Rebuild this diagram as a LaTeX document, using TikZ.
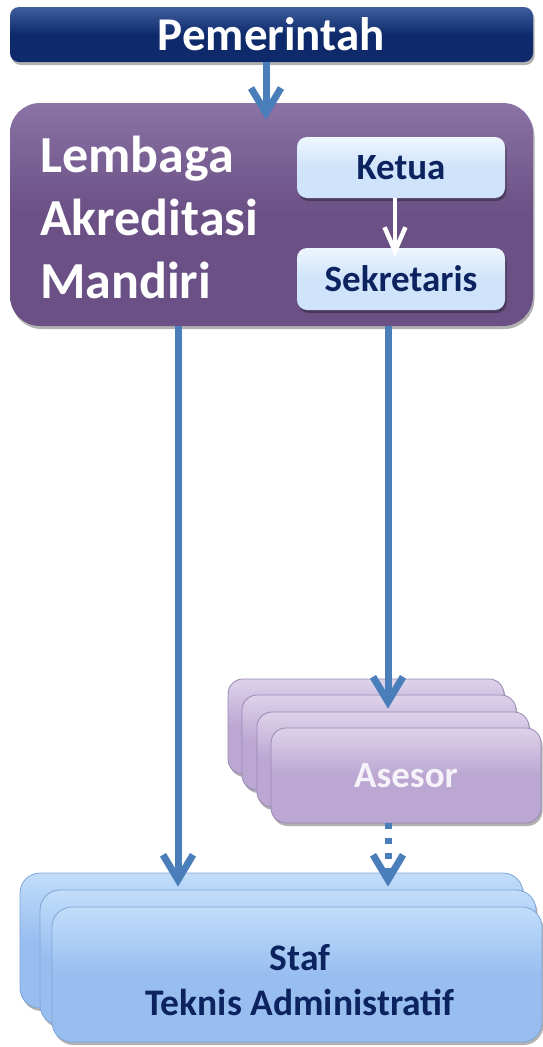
\documentclass[tikz,border=0pt]{standalone}
\usepackage{fontspec}
\setmainfont{Carlito}
\usetikzlibrary{arrows.meta,shadows}
\definecolor{navy}{HTML}{0E2A6A}
\definecolor{navyhi}{HTML}{3E5E9E}
\definecolor{lampurple}{HTML}{6A5084}
\definecolor{lamhi}{HTML}{8B73A6}
\definecolor{lightblue}{HTML}{CFE3FA}
\definecolor{lightbluehi}{HTML}{EEF6FE}
\definecolor{asesorfill}{HTML}{BBA7D2}
\definecolor{asesorhi}{HTML}{DDD2EA}
\definecolor{asesorline}{HTML}{9A86B5}
\definecolor{staffill}{HTML}{98BEF0}
\definecolor{stafhi}{HTML}{C2DDFA}
\definecolor{stafline}{HTML}{7FA6D8}
\definecolor{arrowblue}{HTML}{4A7EBB}
\definecolor{darktext}{HTML}{0C2360}
\definecolor{asesortext}{HTML}{F6F2FA}
\begin{document}
\begin{tikzpicture}[x=1pt,y=-1pt,
  shadowed/.style={drop shadow={shadow xshift=1.5pt,shadow yshift=-3pt,opacity=0.3,fill=black}},
  pembox/.style={shadowed,rounded corners=9pt,top color=navyhi,bottom color=navy,middle color=navy,draw=none,
    minimum width=523pt,minimum height=55pt,inner sep=0pt,text=white,
    font=\fontsize{47}{50}\selectfont\bfseries},
  lambox/.style={shadowed,rounded corners=30pt,top color=lamhi,bottom color=lampurple,middle color=lampurple,draw=none,
    minimum width=523pt,minimum height=223pt,inner sep=0pt},
  lamtext/.style={anchor=west,inner sep=0pt,align=left,text=white,font=\fontsize{52}{63}\selectfont\bfseries},
  rolebox/.style={shadowed,rounded corners=10pt,top color=lightbluehi,bottom color=lightblue,middle color=lightblue,
    draw=none,minimum width=208pt,inner sep=0pt,text=darktext,font=\fontsize{37}{40}\selectfont\bfseries},
  asesorbox/.style={shadowed,rounded corners=15pt,top color=asesorhi,bottom color=asesorfill,middle color=asesorfill,
    draw=asesorline,line width=0.8pt,minimum height=95pt,inner sep=0pt,text=asesortext,
    font=\fontsize{37}{40}\selectfont\bfseries},
  stafbox/.style={shadowed,rounded corners=20pt,top color=stafhi,bottom color=staffill,middle color=staffill,
    draw=stafline,line width=0.8pt,minimum height=135pt,inner sep=0pt},
  staftext/.style={align=center,inner sep=0pt,text=darktext,font=\fontsize{37.5}{45}\selectfont\bfseries},
  arr/.style={draw=arrowblue,line width=7pt,-{Straight Barb[length=25pt,width=30pt]}},
  whitearr/.style={draw=white,line width=4.5pt,-{Straight Barb[length=24pt,width=21pt]}},
  dotarr/.style={arr,dash pattern=on 6pt off 9pt}
]
\useasboundingbox[fill=white] (0,0) rectangle (543,1047);

% Pemerintah
\node[pembox] (pem) at (271.5,34.5) {Pemerintah};

% Lembaga Akreditasi Mandiri
\node[lambox] (lam) at (271.5,214.5) {};
\node[lamtext] (lamlabel) at (40,217) {Lembaga\\Akreditasi\\Mandiri};
\node[rolebox,minimum height=61pt] (ketua) at (401,167.5) {Ketua};
\node[rolebox,minimum height=62pt] (sek) at (401,279) {Sekretaris};

% Asesor stack
\node[asesorbox,minimum width=276pt] (as1) at (366,726.5) {};
\node[asesorbox,minimum width=274pt] (as2) at (379,742.5) {};
\node[asesorbox,minimum width=272pt] (as3) at (393,759.5) {};
\node[asesorbox,minimum width=270pt] (asesor) at (406,775.5) {Asesor};

% Staf stack
\node[stafbox,minimum width=503pt] (staf1) at (271.5,940.5) {};
\node[stafbox,minimum width=496pt] (staf2) at (288,957.5) {};
\node[stafbox,minimum width=490pt] (staf) at (297,974.5) {};
\node[staftext] (staflabel) at (300,980) {Staf\\Teknis Administratif};

% connectors
\draw[arr] ([xshift=-5.5pt]pem.south) -- ([xshift=-5.5pt,yshift=-17pt]lam.north);
\draw[whitearr] ([xshift=-6pt]ketua.south) -- ([xshift=-6pt,yshift=-9pt]sek.north);
\coordinate (leftend) at ([xshift=-93.5pt,yshift=-14pt]lam.south |- staf1.north);
\draw[arr] ([xshift=-93.5pt]lam.south) -- (leftend);
\coordinate (asend) at ([yshift=-30pt]sek.south |- as1.north);
\draw[arr] ([xshift=116.5pt]lam.south) -- ([xshift=-13pt]asend);
\coordinate (dotend) at ([xshift=-18pt,yshift=-14pt]asesor.south |- staf1.north);
\draw[dotarr] ([xshift=-18pt]asesor.south) -- (dotend);
\end{tikzpicture}
\end{document}
